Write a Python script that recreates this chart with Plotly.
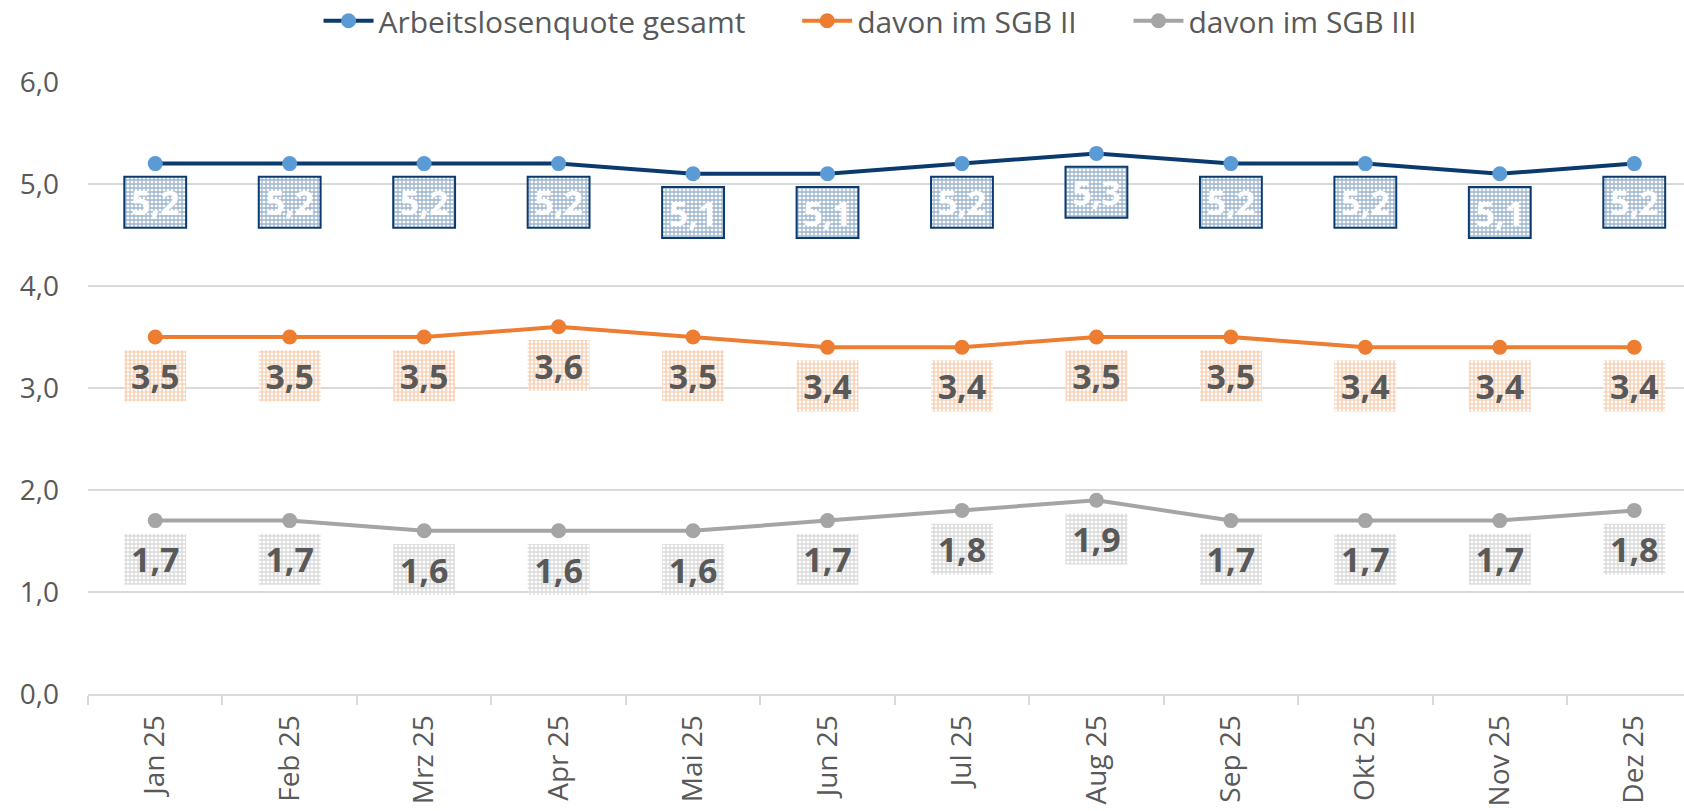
"""Arbeitslosenquote 2025 — line chart with boxed data labels."""

import plotly.graph_objects as go

MONTHS = ["Jan 25", "Feb 25", "Mrz 25", "Apr 25", "Mai 25", "Jun 25",
          "Jul 25", "Aug 25", "Sep 25", "Okt 25", "Nov 25", "Dez 25"]
GESAMT = [5.2, 5.2, 5.2, 5.2, 5.1, 5.1, 5.2, 5.3, 5.2, 5.2, 5.1, 5.2]
SGB_II = [3.5, 3.5, 3.5, 3.6, 3.5, 3.4, 3.4, 3.5, 3.5, 3.4, 3.4, 3.4]
SGB_III = [1.7, 1.7, 1.6, 1.6, 1.6, 1.7, 1.8, 1.9, 1.7, 1.7, 1.7, 1.8]
Y_TICKS = [0, 1, 2, 3, 4, 5, 6]

FONT = "Open Sans"
TEXT_GREY = "#595959"
GRID = "#d9d9d9"
NBSP = "\u00a0"

# label box geometry (data units below each point)
LABEL_GAP = 0.13
LABEL_H = 0.5

SERIES = [
    # name, values, line colour, marker colour, box pattern colour, solidity, box border, label colour, legend pad
    ("Arbeitslosenquote gesamt", GESAMT, "#0b3b6e", "#5b9bd5", "#3a6a9e", 0.55, "#0b3b6e", "#ffffff", 6),
    ("davon im SGB II", SGB_II, "#ed7d31", "#ed7d31", "#f08a45", 0.5, None, TEXT_GREY, 6),
    ("davon im SGB III", SGB_III, "#a5a5a5", "#a5a5a5", "#b3b3b3", 0.55, None, TEXT_GREY, 0),
]


def fmt(v):
    return f"{v:.1f}".replace(".", ",")


fig = go.Figure()

# label boxes (bars with pattern fill)
for name, vals, lc, mc, pc, sol, border, tc, pad in SERIES:
    fig.add_trace(go.Bar(
        x=MONTHS,
        y=[LABEL_H] * len(vals),
        base=[v - LABEL_GAP - LABEL_H for v in vals],
        width=0.46,
        text=[fmt(v) for v in vals],
        textposition="inside",
        insidetextanchor="middle",
        constraintext="none",
        textfont=dict(family=FONT, size=34, color=tc, weight="bold"),
        marker=dict(
            color="#ffffff",
            line=dict(color=border or "rgba(0,0,0,0)", width=2 if border else 0),
            pattern=dict(shape="+", fgcolor=pc, bgcolor="#ffffff", size=4, solidity=sol),
        ),
        showlegend=False,
        hoverinfo="skip",
    ))

# lines
for name, vals, lc, mc, pc, sol, border, tc, pad in SERIES:
    fig.add_trace(go.Scatter(
        x=MONTHS,
        y=vals,
        name=name + NBSP * pad,
        mode="lines+markers",
        line=dict(color=lc, width=4),
        marker=dict(color=mc, size=15),
    ))

fig.update_layout(
    width=1684,
    height=811,
    margin=dict(l=88, r=0, t=82, b=117, autoexpand=False),
    paper_bgcolor="white",
    plot_bgcolor="white",
    barmode="overlay",
    separators=", ",
    font=dict(family=FONT, color=TEXT_GREY, size=28),
    legend=dict(
        orientation="h",
        x=0.49, xanchor="center",
        y=1.1, yanchor="middle",
        font=dict(family=FONT, size=30, color=TEXT_GREY),
        bgcolor="rgba(0,0,0,0)",
        itemwidth=50,
    ),
    xaxis=dict(
        type="category",
        range=[-0.5, 11.37],
        automargin=False,
        showgrid=False,
        showline=True,
        linecolor=GRID,
        linewidth=2,
        ticks="outside",
        tickson="boundaries",
        ticklen=9,
        tickcolor=GRID,
        tickwidth=2,
        tickangle=-90,
        tickfont=dict(family=FONT, size=28, color=TEXT_GREY),
        ticklabelstandoff=8,
    ),
    yaxis=dict(
        range=[0, 6],
        automargin=False,
        tickvals=Y_TICKS,
        tickformat=".1f",
        showgrid=True,
        gridcolor=GRID,
        gridwidth=2,
        zeroline=False,
        showline=False,
        ticks="",
        tickfont=dict(family=FONT, size=28, color=TEXT_GREY),
        ticklabelstandoff=28,
    ),
)

fig.write_html(
    "out.html",
    config={"displayModeBar": False},
    post_script="document.body.style.margin='0';",
)
